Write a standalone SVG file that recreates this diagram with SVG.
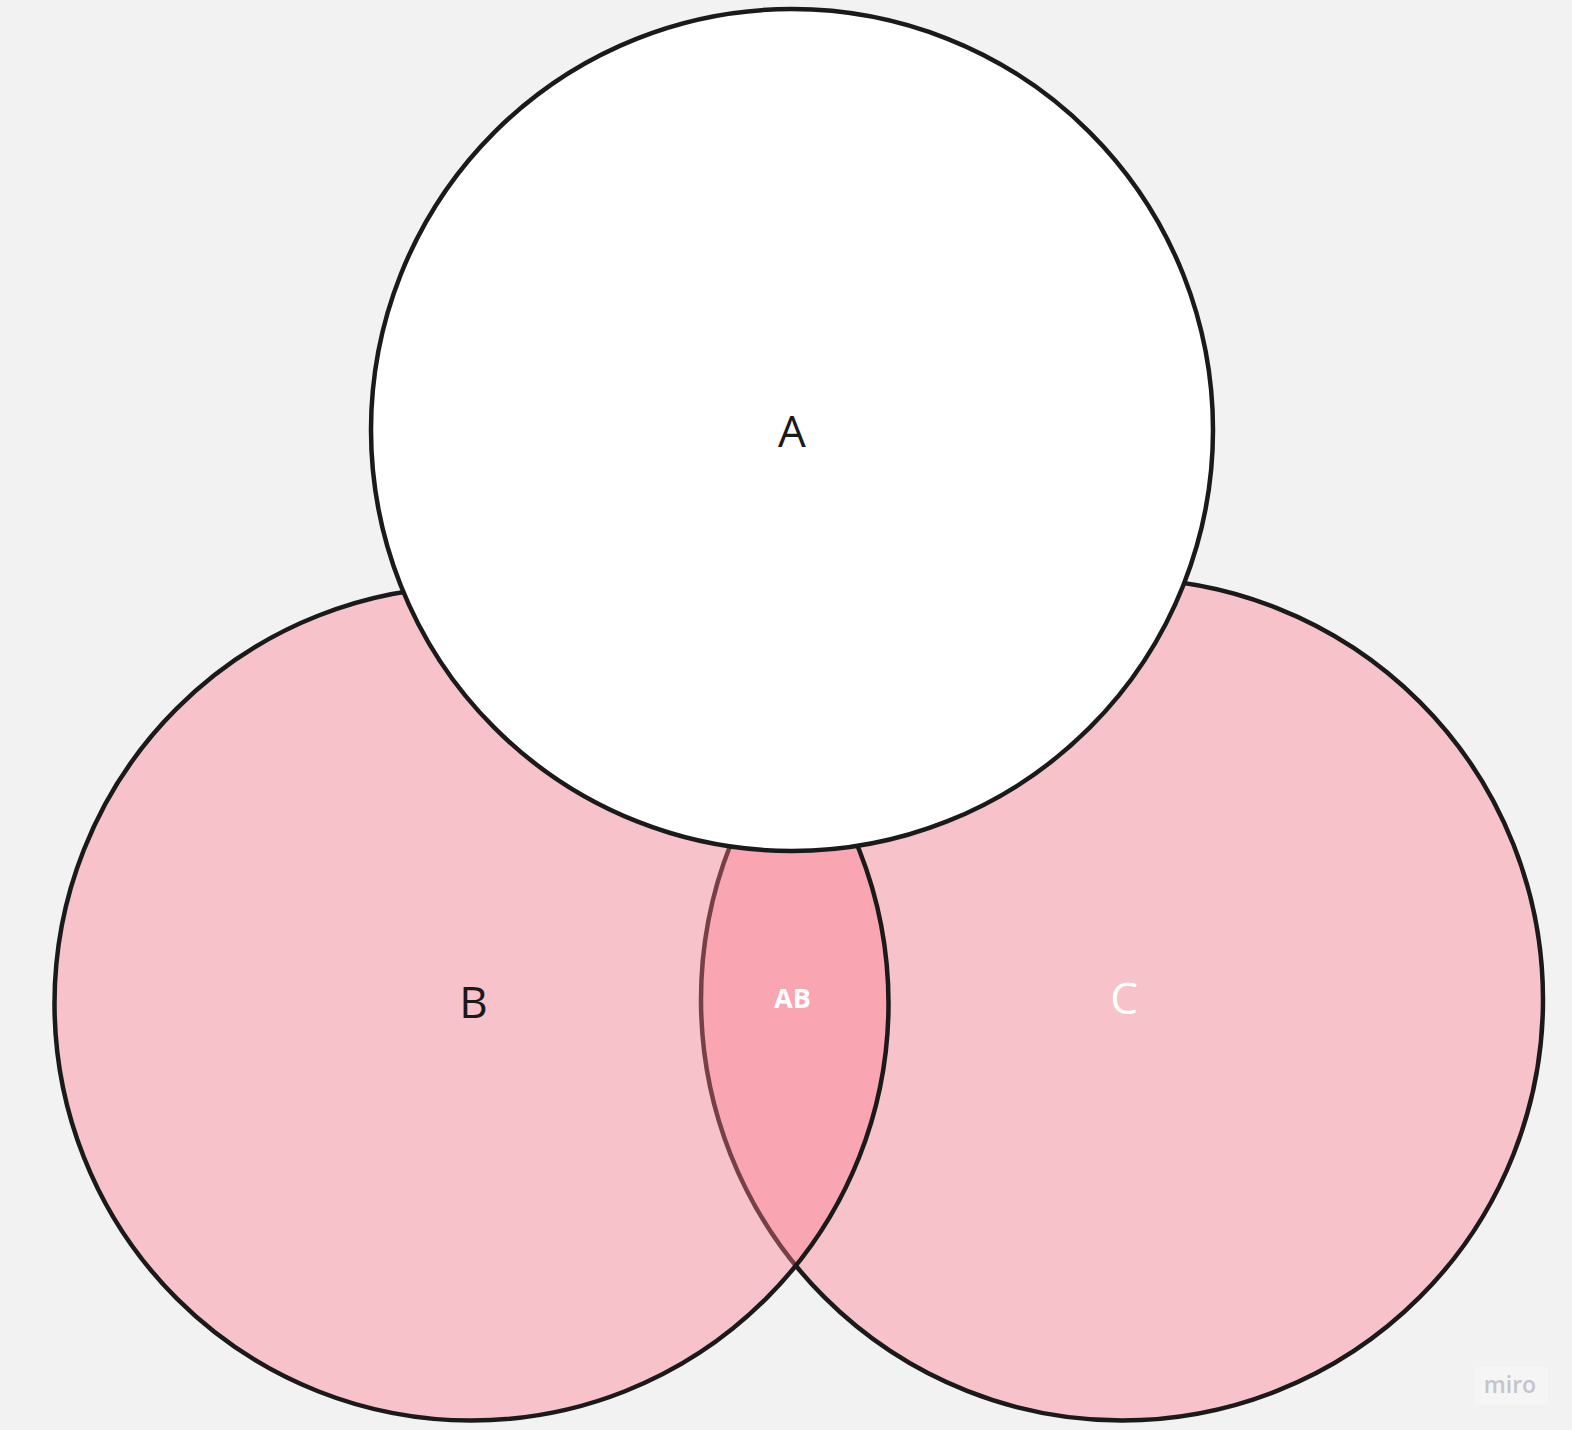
<svg xmlns="http://www.w3.org/2000/svg" width="1572" height="1430" viewBox="0 0 1572 1430">
<style>
.ring{stroke:#1a1a1a;stroke-width:4.5}
.pink{fill:#FF7A8E;fill-opacity:0.4}
.lbl{font-family:"Open Sans","Liberation Sans",sans-serif;font-size:44px;text-anchor:middle}
</style>
<rect width="1572" height="1430" fill="#F2F2F2"/>
<g id="node-C">
<circle class="ring pink" cx="1122" cy="999.5" r="421"/>
</g>
<g id="node-B">
<circle class="ring pink" cx="471.5" cy="1003.5" r="417"/>
</g>
<g id="node-A">
<circle class="ring" fill="#FFFFFF" cx="792" cy="430" r="421"/>
</g>
<g id="labels">
<text class="lbl" x="792" y="447" fill="#1a1a1a">A</text>
<text class="lbl" x="473.5" y="1018" fill="#1a1a1a">B</text>
<text class="lbl" x="1124" y="1014" fill="#FFFFFF">C</text>
<text x="792.5" y="1008" fill="#FFFFFF" font-family="'Open Sans','Liberation Sans',sans-serif" font-size="27" font-weight="bold" text-anchor="middle">AB</text>
</g>
<g id="connectors"></g>
<g id="watermark">
<rect x="1475" y="1367" width="73" height="38" fill="#F5F5F5"/>
<text x="1510" y="1393" fill="#C4C4CC" font-family="'Open Sans','Liberation Sans',sans-serif" font-size="23" font-weight="600" text-anchor="middle">miro</text>
</g>
</svg>
